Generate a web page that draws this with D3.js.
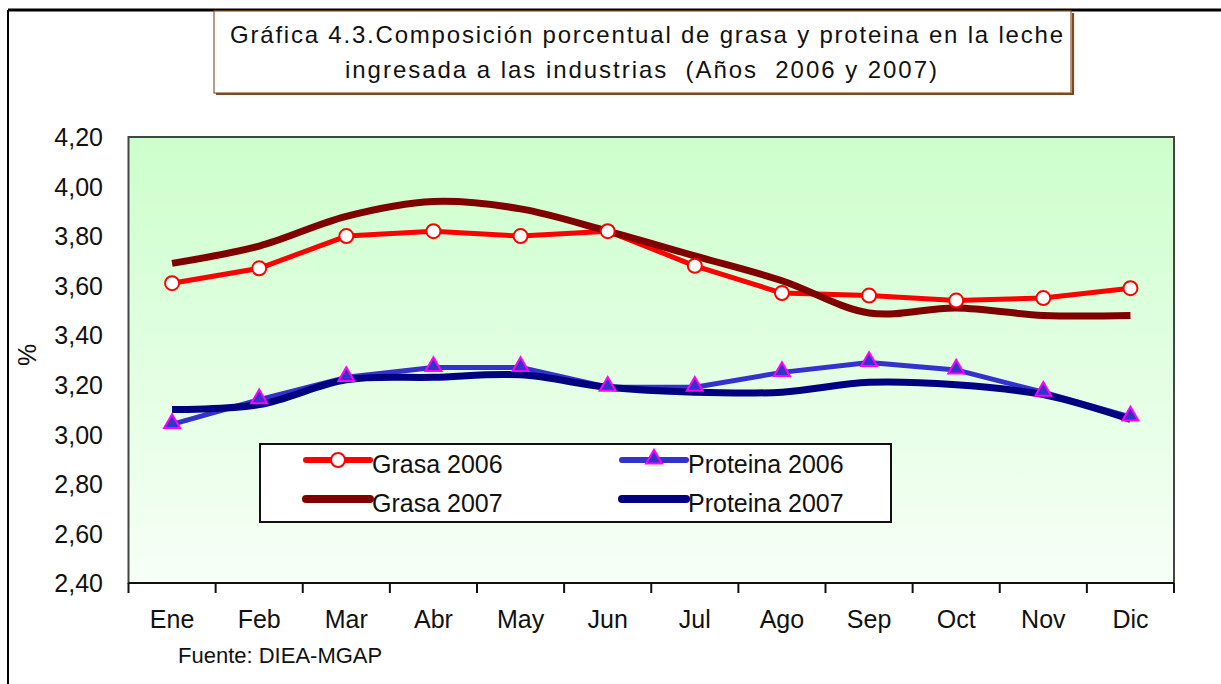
<!DOCTYPE html>
<html>
<head>
<meta charset="utf-8">
<script src="https://cdn.jsdelivr.net/npm/d3@7.9.0/dist/d3.min.js"></script>
<style>
  body { margin: 0; background: #fff; }
  svg { display: block; font-family: "Liberation Sans", Arial, sans-serif; }
</style>
</head>
<body>
<svg id="chart" width="1221" height="684"></svg>
<script>
// Data
const months = ['Ene', 'Feb', 'Mar', 'Abr', 'May', 'Jun', 'Jul', 'Ago', 'Sep', 'Oct', 'Nov', 'Dic'];
const grasa2006 = [3.61, 3.67, 3.80, 3.82, 3.80, 3.82, 3.68, 3.57, 3.56, 3.54, 3.55, 3.59];
const grasa2007 = [3.69, 3.76, 3.88, 3.94, 3.91, 3.82, 3.72, 3.62, 3.49, 3.51, 3.48, 3.48];
const proteina2006 = [3.04, 3.14, 3.23, 3.27, 3.27, 3.19, 3.19, 3.25, 3.29, 3.26, 3.17, 3.07];
const proteina2007 = [3.10, 3.12, 3.22, 3.23, 3.24, 3.19, 3.17, 3.17, 3.21, 3.20, 3.16, 3.06];
const yTicks = [2.4, 2.6, 2.8, 3.0, 3.2, 3.4, 3.6, 3.8, 4.0, 4.2];
const titleLines = [
  'Gráfica 4.3.Composición porcentual de grasa y proteina en la leche',
  'ingresada a las industrias  (Años  2006 y 2007)'
];
const seriesNames = ['Grasa 2006', 'Proteina 2006', 'Grasa 2007', 'Proteina 2007'];

const svg = d3.select('#chart');

// plot area bounds
const plotLeft = 128.5, plotRight = 1174, plotTop = 137, plotBottom = 583;

const x = d3.scaleBand().domain(months).range([plotLeft, plotRight]);
const y = d3.scaleLinear().domain([2.4, 4.2]).range([plotBottom, plotTop]);

// outer frame
svg.append('line').attr('x1', 8).attr('y1', 10).attr('x2', 1221).attr('y2', 10)
  .attr('stroke', '#000').attr('stroke-width', 3);
svg.append('line').attr('x1', 8).attr('y1', 10).attr('x2', 8).attr('y2', 684)
  .attr('stroke', '#000').attr('stroke-width', 2);

// title box
svg.append('rect').attr('x', 214).attr('y', 11).attr('width', 857).attr('height', 82)
  .attr('fill', '#fff').attr('stroke', '#8a5a2e').attr('stroke-width', 1.2);
svg.append('path').attr('d', 'M216,94 H1073 V13')
  .attr('fill', 'none').attr('stroke', '#7a4a22').attr('stroke-width', 2.2);

// the title glyphs are a bit narrow and widely spaced in the original
const titleWidths = [833, 592];
const titleStarts = [230, 345];
titleLines.forEach((t, i) => {
  svg.append('text')
    .attr('x', titleStarts[i]).attr('y', 43 + i * 35)
    .attr('font-size', 24).attr('fill', '#111')
    .attr('textLength', titleWidths[i]).attr('lengthAdjust', 'spacing')
    .style('white-space', 'pre')
    .text(t);
});

// plot background gradient
const defs = svg.append('defs');
const grad = defs.append('linearGradient').attr('id', 'bg')
  .attr('x1', 0).attr('y1', 0).attr('x2', 0).attr('y2', 1);
grad.append('stop').attr('offset', '0%').attr('stop-color', '#ccffcc');
grad.append('stop').attr('offset', '100%').attr('stop-color', '#f7fff7');

svg.append('rect')
  .attr('x', plotLeft).attr('y', plotTop)
  .attr('width', plotRight - plotLeft).attr('height', plotBottom - plotTop)
  .attr('fill', 'url(#bg)').attr('stroke', '#444').attr('stroke-width', 2);

// y axis labels
const yAxis = d3.axisLeft(y).tickValues(yTicks).tickSize(0).tickPadding(0)
  .tickFormat(d => d3.format('.2f')(d).replace('.', ','));
const gy = svg.append('g').attr('transform', 'translate(103,0)').call(yAxis);
gy.select('.domain').remove();
gy.selectAll('text').attr('font-size', 25).attr('font-family', '"Liberation Sans", Arial, sans-serif')
  .attr('fill', '#111').attr('dy', '0.35em');

svg.append('text')
  .attr('transform', 'translate(36,355) rotate(-90)')
  .attr('text-anchor', 'middle').attr('font-size', 25).attr('fill', '#111')
  .text('%');

// x axis: line, ticks on category boundaries, labels at centres
const gx = svg.append('g').attr('transform', `translate(0,${plotBottom})`);
gx.append('line').attr('x1', plotLeft).attr('x2', plotRight).attr('stroke', '#111').attr('stroke-width', 2);
gx.selectAll('line.tick')
  .data(months.map(m => x(m)).concat([plotRight]))
  .join('line')
  .attr('class', 'tick')
  .attr('x1', d => d).attr('x2', d => d)
  .attr('y1', 0).attr('y2', 10)
  .attr('stroke', '#111').attr('stroke-width', 2);
gx.selectAll('text')
  .data(months)
  .join('text')
  .attr('x', d => x(d) + x.bandwidth() / 2)
  .attr('y', 45)
  .attr('text-anchor', 'middle')
  .attr('font-size', 25).attr('fill', '#111')
  .text(d => d);

svg.append('text').attr('x', 178).attr('y', 663)
  .attr('font-size', 22).attr('fill', '#111')
  .text('Fuente: DIEA-MGAP');

// series
const cx = (d, i) => x(months[i]) + x.bandwidth() / 2;
const straight = d3.line().x(cx).y(d => y(d));
const smooth = d3.line().x(cx).y(d => y(d)).curve(d3.curveCatmullRom.alpha(0.5));

const series = [
  { name: seriesNames[0], values: grasa2006, color: '#ff0000', width: 5, line: straight, marker: 'circle' },
  { name: seriesNames[1], values: proteina2006, color: '#3333cc', width: 5, line: straight, marker: 'triangle' },
  { name: seriesNames[2], values: grasa2007, color: '#800000', width: 7, line: smooth, marker: null },
  { name: seriesNames[3], values: proteina2007, color: '#000080', width: 7, line: smooth, marker: null }
];

const lineLayer = svg.append('g');
series.forEach(s => {
  lineLayer.append('path')
    .attr('d', s.line(s.values))
    .attr('fill', 'none')
    .attr('stroke', s.color)
    .attr('stroke-width', s.width)
    .attr('stroke-linejoin', 'round')
    .attr('stroke-linecap', 'butt');
});

const tri = d3.symbol().type(d3.symbolTriangle).size(110);

function drawMarker(g, type, px, py) {
  if (type === 'circle') {
    g.append('circle').attr('cx', px).attr('cy', py).attr('r', 7)
      .attr('fill', '#fff').attr('stroke', '#ff0000').attr('stroke-width', 2);
  } else if (type === 'triangle') {
    g.append('path').attr('d', tri())
      .attr('transform', `translate(${px},${py - 1})`)
      .attr('fill', '#3333cc').attr('stroke', '#ff00ff').attr('stroke-width', 2);
  }
}

const markerLayer = svg.append('g');
series.filter(s => s.marker).forEach(s => {
  s.values.forEach((v, i) => drawMarker(markerLayer, s.marker, cx(v, i), y(v)));
});

// legend
const legend = svg.append('g');
legend.append('rect').attr('x', 260).attr('y', 444).attr('width', 631).attr('height', 78)
  .attr('fill', '#fff').attr('stroke', '#111').attr('stroke-width', 2);

const legendPos = [
  { x: 306, y: 460 },
  { x: 622, y: 460 },
  { x: 306, y: 499 },
  { x: 622, y: 499 }
];
series.forEach((s, i) => {
  const p = legendPos[i];
  legend.append('line')
    .attr('x1', p.x).attr('x2', p.x + 64).attr('y1', p.y).attr('y2', p.y)
    .attr('stroke', s.color).attr('stroke-width', s.width + 1).attr('stroke-linecap', 'round');
  drawMarker(legend, s.marker, p.x + 32, p.y);
  legend.append('text')
    .attr('x', p.x + 66).attr('y', p.y + 13)
    .attr('font-size', 25).attr('fill', '#111')
    .text(s.name);
});
</script>
</body>
</html>
